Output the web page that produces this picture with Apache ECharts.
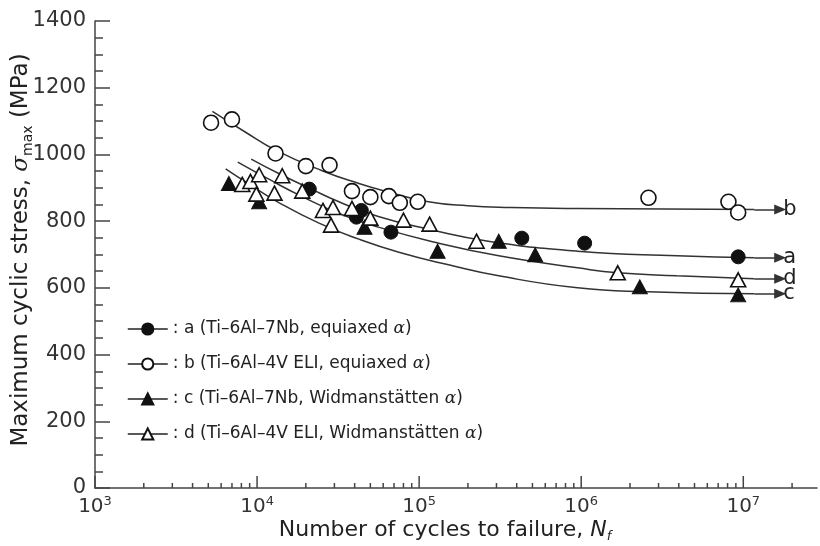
<!DOCTYPE html>
<html><head><meta charset="utf-8">
<script src="https://cdn.jsdelivr.net/npm/echarts@6/dist/echarts.min.js"></script>
<style>html,body{margin:0;padding:0;background:#fff}#c{width:820px;height:546px}</style>
</head><body><div id="c"></div>
<script>
// ---------- data ----------
const seriesNames = [
  'a (Ti–6Al–7Nb, equiaxed α)',
  'b (Ti–6Al–4V ELI, equiaxed α)',
  'c (Ti–6Al–7Nb, Widmanstätten α)',
  'd (Ti–6Al–4V ELI, Widmanstätten α)'
];
const curveLetters = ['a', 'b', 'c', 'd'];

const cyclesA = [2.1e4, 4.1e4, 4.4e4, 6.7e4, 4.3e5, 1.05e6, 9.3e6];
const stressA = [896, 812, 832, 767, 749, 734, 693];
const cyclesB = [5.2e3, 7.0e3, 1.3e4, 2.0e4, 2.8e4, 3.85e4, 5.0e4, 6.5e4, 7.6e4, 9.8e4, 2.6e6, 8.1e6, 9.3e6];
const stressB = [1095, 1105, 1003, 965, 968, 890, 872, 875, 855, 858, 870, 858, 826];
const cyclesC = [6.7e3, 1.03e4, 4.6e4, 1.3e5, 3.1e5, 5.2e5, 2.3e6, 9.3e6];
const stressC = [913, 858, 782, 710, 740, 699, 603, 579];
const cyclesD = [8.1e3, 9.1e3, 9.9e3, 1.03e4, 1.28e4, 1.43e4, 1.9e4, 2.55e4, 2.86e4, 2.94e4, 3.85e4, 5.0e4, 8.0e4, 1.16e5, 2.26e5, 1.68e6, 9.3e6];
const stressD = [910, 919, 881, 939, 884, 936, 890, 832, 788, 841, 838, 809, 803, 791, 740, 645, 624];

// fitted S–N curves
const curveA_N = [9.2e3, 1.37e4, 2.1e4, 3.2e4, 5.6e4, 1.14e5, 2.67e5, 9.5e5, 3.9e6, 1.17e7];
const curveA_S = [986, 942, 899, 858, 814, 776, 740, 710, 696, 690];
const curveB_N = [5.3e3, 8.4e3, 1.31e4, 2.52e4, 4.25e4, 6.5e4, 1.14e5, 2.0e5, 3.7e5, 9.5e5, 1.17e7];
const curveB_S = [1129, 1068, 1012, 951, 913, 887, 858, 846, 841, 838, 835];
const curveC_N = [6.4e3, 9.0e3, 1.37e4, 2.41e4, 4.25e4, 7.5e4, 1.52e5, 3.1e5, 9.5e5, 2.57e6, 1.17e7];
const curveC_S = [957, 910, 855, 794, 746, 707, 669, 636, 600, 588, 582];
const curveD_N = [7.6e3, 1.19e4, 1.82e4, 3.2e4, 5.6e4, 1.32e5, 3.1e5, 9.5e5, 1.68e6, 3.9e6, 1.17e7];
const curveD_S = [977, 925, 878, 823, 782, 734, 696, 660, 645, 636, 627];
const arrowFromN = 1.17e7;
const arrowToN = 1.69e7;

// axis ticks
const yMin = 0, yMax = 1400, yStep = 200;
const xMin = 1e3, xMax = 2.85e7;
const majorTicksX = [1e3, 1e4, 1e5, 1e6, 1e7];
const minorMultipliers = [2, 3, 4, 5, 6, 7, 8, 9];
const minorDecades = [1e3, 1e4, 1e5, 1e6];
const extraMinorTicksX = [2e7];

// ---------- chart ----------
const FONT = 'DejaVu Sans';
const INK = '#222';
const AXIS = '#444';
const zip = (xs, ys) => xs.map((x, i) => [x, ys[i]]);
const minorTicksX = minorDecades.flatMap(d => minorMultipliers.map(m => m * d)).concat(extraMinorTicksX);

const pointStyles = [
  { symbol: 'circle', symbolSize: 14, itemStyle: { color: '#111', borderColor: '#111', borderWidth: 1 } },
  { symbol: 'circle', symbolSize: 15, itemStyle: { color: '#fff', borderColor: '#111', borderWidth: 1.6 } },
  { symbol: 'triangle', symbolSize: [15, 14], itemStyle: { color: '#111', borderColor: '#111', borderWidth: 1 } },
  { symbol: 'triangle', symbolSize: [15, 14], itemStyle: { color: '#fff', borderColor: '#111', borderWidth: 1.6 } }
];
const pointData = [zip(cyclesA, stressA), zip(cyclesB, stressB), zip(cyclesC, stressC), zip(cyclesD, stressD)];
const curveData = [zip(curveA_N, curveA_S), zip(curveB_N, curveB_S), zip(curveC_N, curveC_S), zip(curveD_N, curveD_S)];

const series = [];
curveData.forEach((cd, i) => {
  const lastS = cd[cd.length - 1][1];
  series.push({
    type: 'line', name: 'curve-' + curveLetters[i], data: cd, smooth: 0.5,
    showSymbol: false, silent: true, z: 2,
    lineStyle: { color: '#333', width: 1.5 },
    markLine: {
      silent: true, animation: false,
      symbol: ['none', 'triangle'], symbolSize: [10, 12],
      lineStyle: { color: '#333', width: 1.5, type: 'solid' },
      label: { show: true, position: 'end', distance: 3, formatter: curveLetters[i], fontFamily: FONT, fontSize: 21, color: INK },
      data: [[{ coord: [arrowFromN, lastS] }, { coord: [arrowToN, lastS] }]]
    }
  });
});
pointData.forEach((pd, i) => {
  series.push(Object.assign({
    type: 'line', name: seriesNames[i], data: pd, z: 4,
    showSymbol: true, showAllSymbol: true,
    lineStyle: { opacity: 0 }, emphasis: { disabled: true }
  }, pointStyles[i]));
});
const tickSeries = (vals, len) => ({
  type: 'custom', silent: true, clip: false, z: 5,
  data: vals.map(v => [v, yMin]),
  renderItem: (params, api) => {
    const p = api.coord([api.value(0), api.value(1)]);
    return { type: 'line', shape: { x1: p[0], y1: p[1], x2: p[0], y2: p[1] - len }, style: { stroke: AXIS, lineWidth: 1.5 } };
  }
});
series.push(tickSeries(majorTicksX, 12));
series.push(tickSeries(minorTicksX, 5));

const chart = echarts.init(document.getElementById('c'), null, { renderer: 'canvas' });
chart.setOption({
  animation: false,
  backgroundColor: '#fff',
  grid: { left: 95, right: 0, top: 21, bottom: 58, containLabel: false },
  xAxis: {
    type: 'log', logBase: 10, min: xMin, max: xMax,
    axisLine: { lineStyle: { color: AXIS, width: 1.5 } },
    axisTick: { show: false }, splitLine: { show: false },
    axisLabel: {
      margin: 7, color: '#333',
      formatter: v => {
        const e = Math.round(Math.log10(v));
        if (Math.abs(Math.log10(v) - e) > 1e-6) return '';
        return '{b|10}{s|' + e + '}';
      },
      rich: {
        b: { fontFamily: FONT, fontSize: 20, color: '#333', lineHeight: 24 },
        s: { fontFamily: FONT, fontSize: 13, color: '#333', verticalAlign: 'top', lineHeight: 14 }
      }
    }
  },
  yAxis: {
    type: 'value', min: yMin, max: yMax, interval: yStep,
    axisLine: { show: true, lineStyle: { color: AXIS, width: 1.5 } },
    axisTick: { show: true, inside: true, length: 15, lineStyle: { color: AXIS, width: 1.5 } },
    minorTick: { show: true, splitNumber: 4, length: 8, lineStyle: { color: AXIS, width: 1.5 } },
    splitLine: { show: false },
    axisLabel: { margin: 9, fontFamily: FONT, fontSize: 21, color: '#333', formatter: v => String(v) }
  },
  legend: {
    data: seriesNames, orient: 'vertical', left: 127, top: 319, padding: 0,
    itemWidth: 40, itemHeight: 14, itemGap: 15,
    lineStyle: { color: INK, width: 1.5, opacity: 1 },
    selectedMode: false,
    formatter: n => ': ' + n.replace('α', '{i|α}'),
    textStyle: {
      fontFamily: FONT, fontSize: 17, color: INK, lineHeight: 20,
      rich: { i: { fontFamily: 'DejaVu Serif', fontStyle: 'italic', fontSize: 17, color: INK, lineHeight: 20 } }
    }
  },
  graphic: [
    {
      type: 'text', x: 21, y: 250, rotation: Math.PI / 2,
      style: {
        text: '{t|Maximum cyclic stress, }{g|σ}{s|max}{t| (MPa)}',
        align: 'center', verticalAlign: 'middle',
        rich: {
          t: { fontFamily: FONT, fontSize: 23, fill: INK, lineHeight: 28 },
          g: { fontFamily: 'DejaVu Serif', fontStyle: 'italic', fontSize: 23, fill: INK, lineHeight: 28 },
          s: { fontFamily: FONT, fontSize: 14, fill: INK, verticalAlign: 'bottom', lineHeight: 17 }
        }
      }
    },
    {
      type: 'text', x: 445, y: 530,
      style: {
        text: '{t|Number of cycles to failure, }{n|N}{s|f}',
        align: 'center', verticalAlign: 'middle',
        rich: {
          t: { fontFamily: FONT, fontSize: 22, fill: INK, lineHeight: 26 },
          n: { fontFamily: FONT, fontStyle: 'italic', fontSize: 22, fill: INK, lineHeight: 26 },
          s: { fontFamily: FONT, fontStyle: 'italic', fontSize: 13, fill: INK, verticalAlign: 'bottom', lineHeight: 16 }
        }
      }
    }
  ],
  series: series
});
</script>
</body></html>
